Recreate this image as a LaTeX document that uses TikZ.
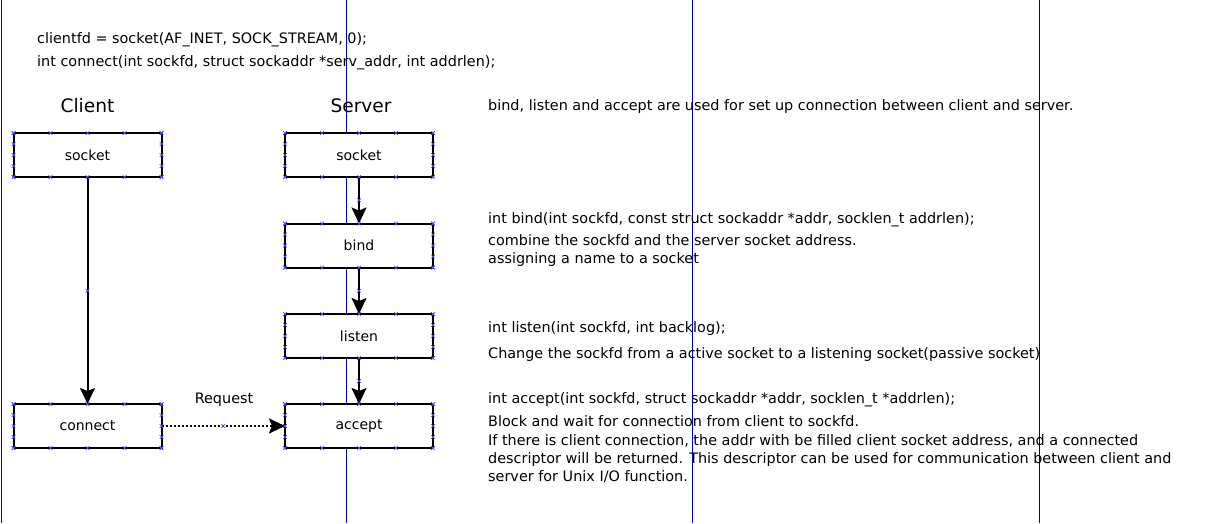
\documentclass[tikz,border=0pt]{standalone}
\usepackage{fontspec}
\setmainfont{DejaVu Sans}
\usetikzlibrary{arrows.meta,calc}
\definecolor{pageline}{RGB}{0,0,160}
\definecolor{cpoint}{RGB}{80,80,240}
\tikzset{
  body/.style={font=\fontsize{14.4}{17}\selectfont, inner sep=0pt, anchor=base west},
  heading/.style={font=\fontsize{18.6}{22}\selectfont, inner sep=0pt, anchor=base},
  stepbox/.style={draw=black, line width=2pt, fill=white, minimum width=148pt, minimum height=44pt,
    inner sep=0pt, outer sep=0pt, font=\fontsize{14}{16}\selectfont},
  flow/.style={line width=2pt, -{Stealth[length=16pt,width=15pt,inset=3pt]}},
  request/.style={flow, dotted},
  cp/.pic={\draw[cpoint, line width=0.7pt] (-1.8,-1.8) -- (1.8,1.8) (-1.8,1.8) -- (1.8,-1.8);},
}
\begin{document}
\begin{tikzpicture}[x=1pt,y=-1pt]
\useasboundingbox (0,0) rectangle (1223,523);
\fill[white] (0,0) rectangle (1223,523);
% page break lines
\foreach \xx in {1,346,692,1039} \draw[pageline, line width=1pt] (\xx,0) -- (\xx,523);

% top code text
\node[body] (code1) at (37,43) {clientfd = socket(AF\_INET, SOCK\_STREAM, 0);};
\node[body] (code2) at (37,66) {int connect(int sockfd, struct sockaddr *serv\_addr, int addrlen);};

\node[heading] (hclient) at (87.5,112) {Client};
\node[heading] (hserver) at (361,112) {Server};

% boxes
\node[stepbox] (cs) at (87.5,155) {socket};
\node[stepbox] (cc) at (87.5,426) {connect};
\node[stepbox] (ss) at (359,155) {socket};
\node[stepbox] (sb) at (359,245.5) {bind};
\node[stepbox] (sl) at (359,336) {listen};
\node[stepbox] (sa) at (359,426) {accept};

% connectors
\draw[flow] (cs) -- (cc);
\draw[flow] (ss) -- (sb);
\draw[flow] (sb) -- (sl);
\draw[flow] (sl) -- (sa);
\draw[request] (cc) -- (sa);
\node[body, anchor=base] (req) at (224,403) {Request};

% connection points
\foreach \n in {cs,cc,ss,sb,sl,sa} {
  \foreach \f in {0,0.25,0.5,0.75,1} {
    \path ($(\n.north west)!\f!(\n.north east)$) pic {cp};
    \path ($(\n.south west)!\f!(\n.south east)$) pic {cp};
    \path ($(\n.north west)!\f!(\n.south west)$) pic {cp};
    \path ($(\n.north east)!\f!(\n.south east)$) pic {cp};
  }
}
\path ($(cs.south)!0.5!(cc.north)$) pic {cp};
\path ($(ss.south)!0.5!(sb.north)$) pic {cp};
\path ($(sb.south)!0.5!(sl.north)$) pic {cp};
\path ($(sl.south)!0.5!(sa.north)$) pic {cp};
\path ($(cc.east)!0.5!(sa.west)$) pic {cp};

% descriptions
\node[body] (d0) at (488,110) {bind, listen and accept are used for set up connection between client and server.};
\node[body] (d1) at (488,223) {int bind(int sockfd, const struct sockaddr *addr, socklen\_t addrlen);};
\node[body] (d2) at (488,245) {combine the sockfd and the server socket address.};
\node[body] (d3) at (488,263) {assigning a name to a socket};
\node[body] (d4) at (488,332) {int listen(int sockfd, int backlog);};
\node[body] (d5) at (488,358) {Change the sockfd from a active socket to a listening socket(passive socket)};
\node[body] (d6) at (488,403) {int accept(int sockfd, struct sockaddr *addr, socklen\_t *addrlen);};
\node[body] (d7) at (488,426.5) {Block and wait for connection from client to sockfd.};
\node[body] (d8) at (488,445) {If there is client connection, the addr with be filled client socket address, and a connected};
\node[body] (d9) at (488,463) {descriptor will be returned. This descriptor can be used for communication between client and};
\node[body] (d10) at (488,481.5) {server for Unix I/O function.};
\end{tikzpicture}
\end{document}
